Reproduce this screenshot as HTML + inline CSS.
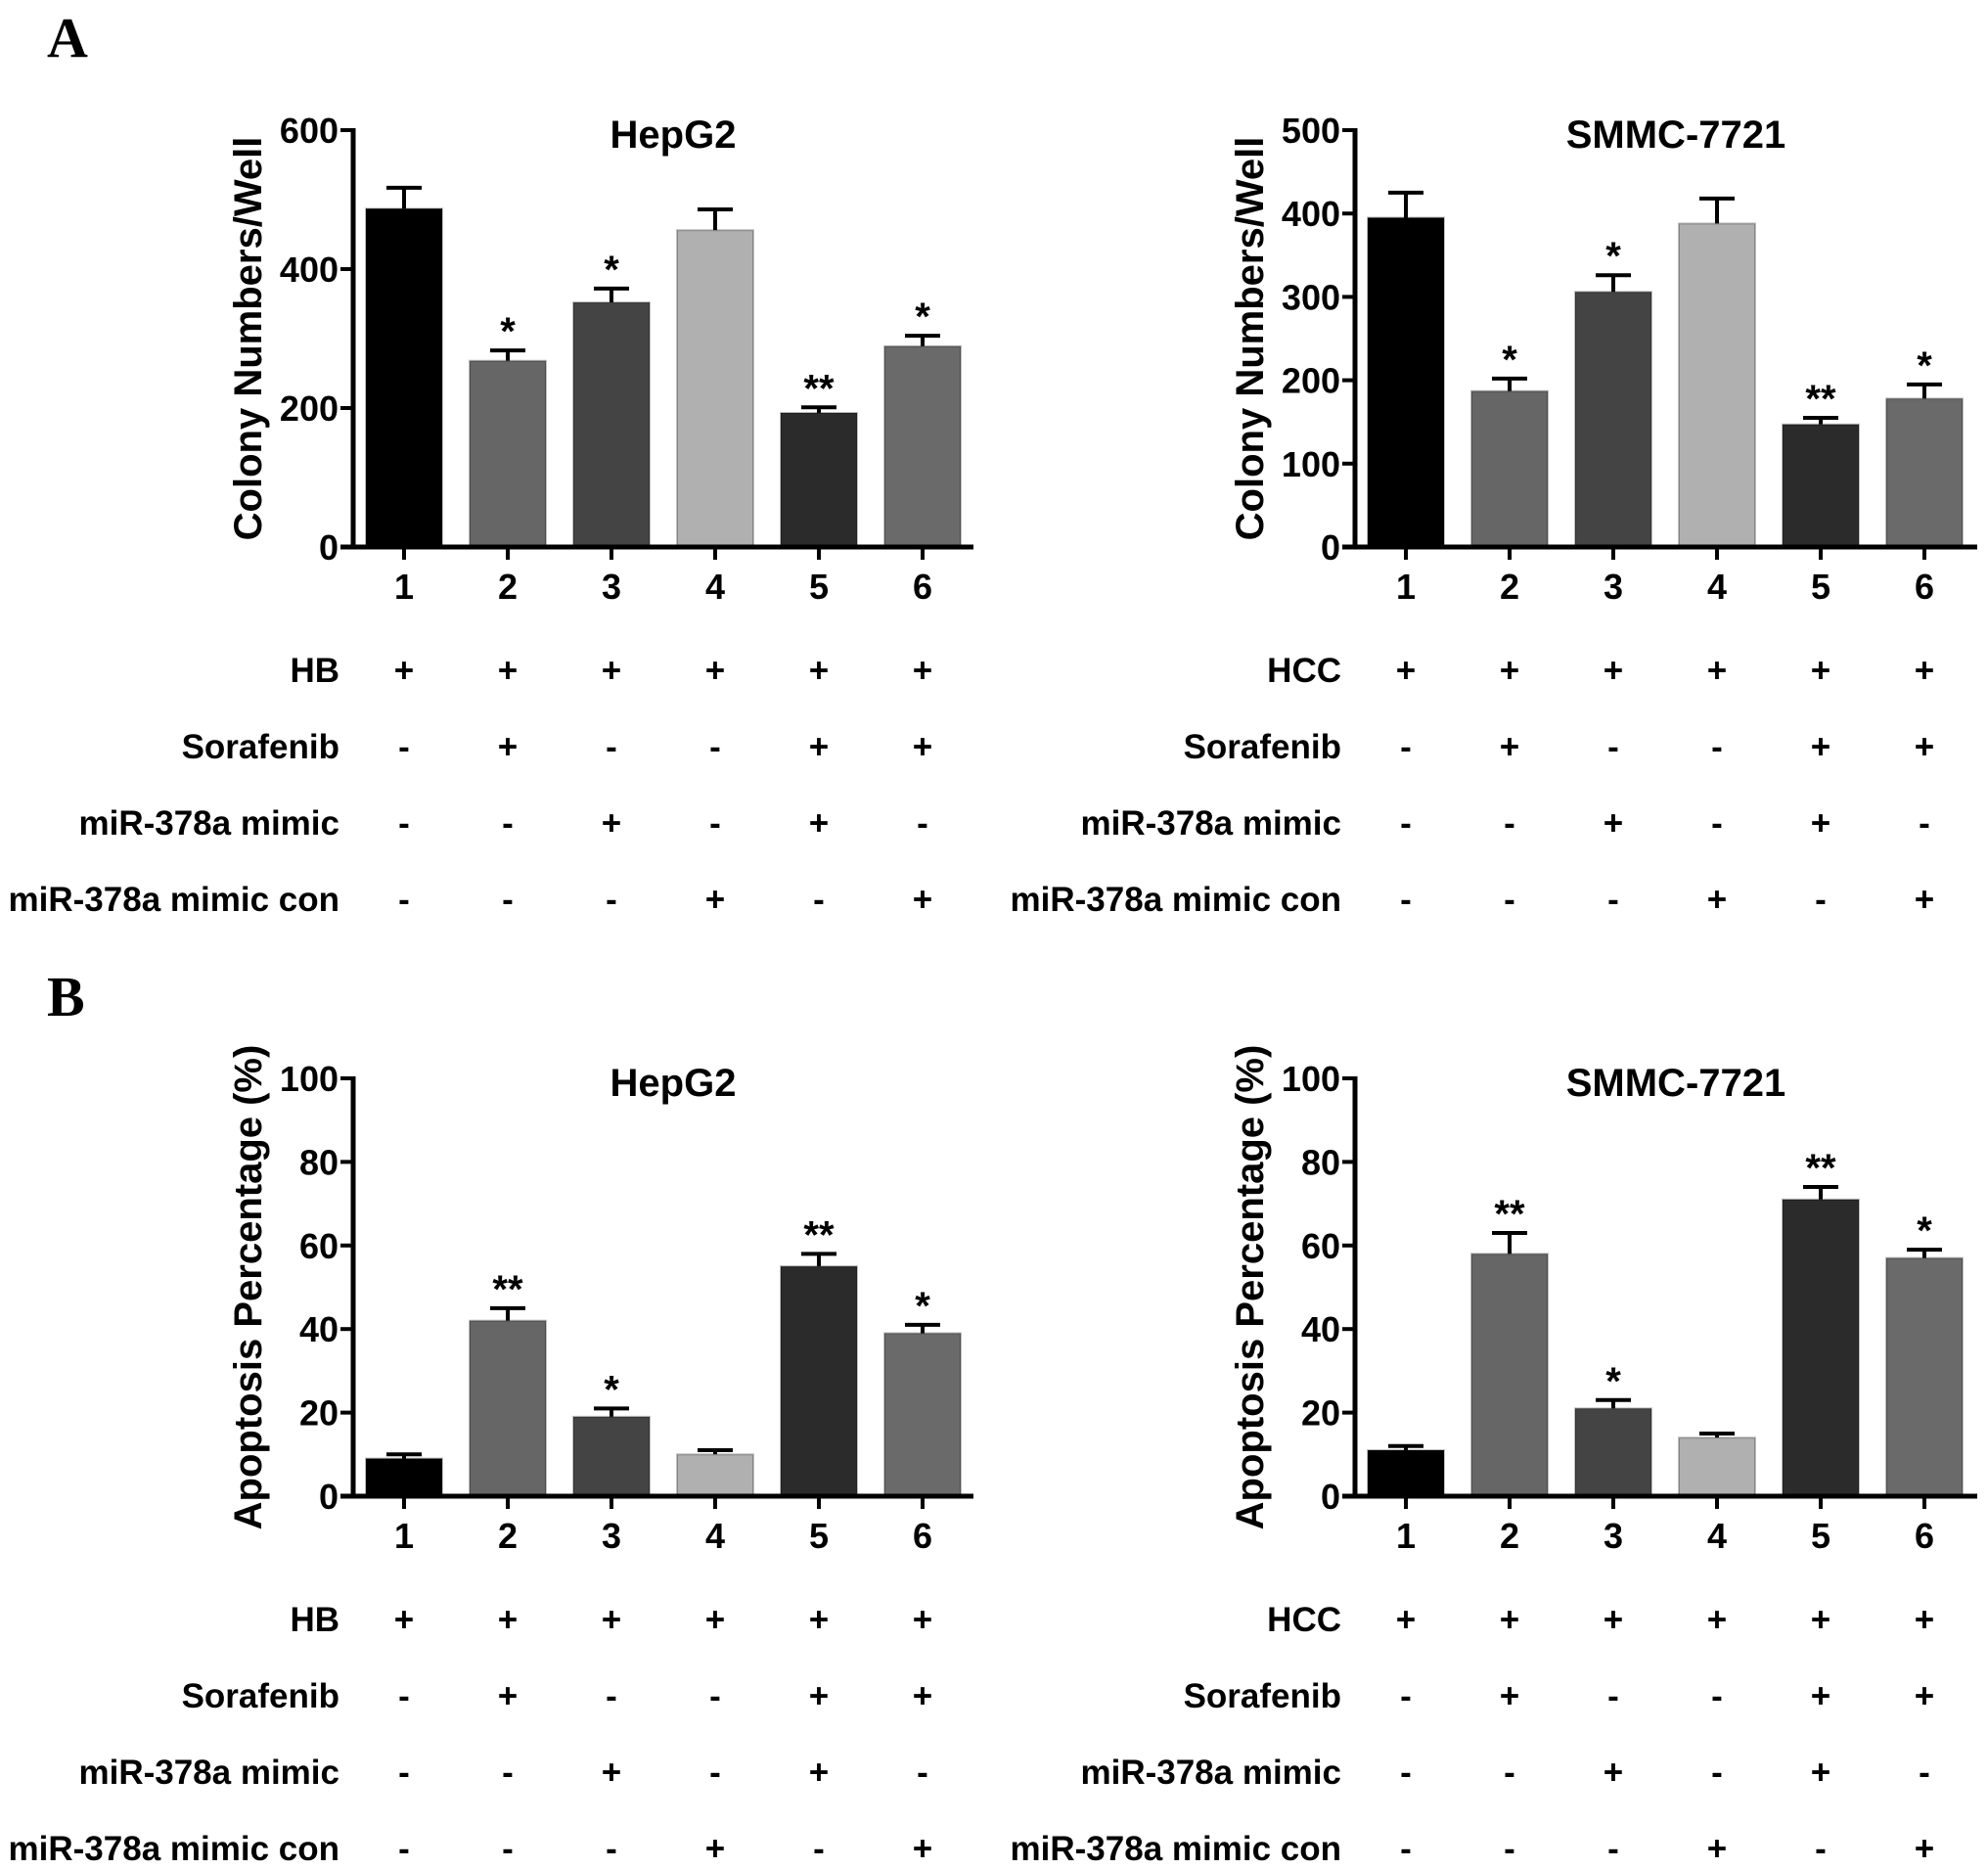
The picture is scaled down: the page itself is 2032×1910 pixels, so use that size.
<!DOCTYPE html>
<html><head><meta charset="utf-8"><style>
html,body{margin:0;padding:0;background:#fff}
svg{display:block}
text{font-family:"Liberation Sans",Arial,sans-serif;font-weight:bold;fill:#000}
</style></head><body>
<svg id="fig" width="2032" height="1910" viewBox="0 0 2032 1910" xmlns="http://www.w3.org/2000/svg">
<text x="48" y="58" style="font-family:'Liberation Serif',serif;font-size:58px">A</text>
<text x="48" y="1038" style="font-family:'Liberation Serif',serif;font-size:58px">B</text>
</svg>
<script>
const categories=["1","2","3","4","5","6"];
const colors=["#000000","#666666","#444444","#b0b0b0","#2b2b2b","#6a6a6a"];
const aHepMean=[487,268,352,456,193,289];
const aHepErr=[30,15,20,30,8,15];
const aSmmcMean=[395,187,306,388,147,178];
const aSmmcErr=[30,15,20,30,8,17];
const bHepMean=[9,42,19,10,55,39];
const bHepErr=[1,3,2,1,3,2];
const bSmmcMean=[11,58,21,14,71,57];
const bSmmcErr=[1,5,2,1,3,2];
const aStars=["","*","*","","**","*"];
const bStars=["","**","*","","**","*"];
const aTicks=[0,200,400,600];
const aTicks2=[0,100,200,300,400,500];
const bTicks=[0,20,40,60,80,100];
const rowLabelsL=["HB","Sorafenib","miR-378a mimic","miR-378a mimic con"];
const rowLabelsR=["HCC","Sorafenib","miR-378a mimic","miR-378a mimic con"];
const signs=[["+","+","+","+","+","+"],["-","+","-","-","+","+"],["-","-","+","-","+","-"],["-","-","-","+","-","+"]];

const svg=document.getElementById('fig');
const NS="http://www.w3.org/2000/svg";
function mk(tag,attrs,parent){const e=document.createElementNS(NS,tag);for(const k in attrs)e.setAttribute(k,attrs[k]);(parent||svg).appendChild(e);return e;}

function chart(o){
  const g=mk('g',{});
  
  
  const x0=o.x0,x1=o.x1,yTop=o.yTop,yZero=o.yZero,max=o.max;
  const y=v=>yZero-(v/max)*(yZero-yTop);
  const step=106.0;
  const xc=i=>x0+o.off+step*i;
  const bw=78;
  o.mean.forEach((m,i)=>{
    const top=y(m+o.err[i]);
    const el=mk('line',{x1:xc(i),x2:xc(i),y1:y(m),y2:top,stroke:'#000','stroke-width':4},g);
    
    
    const cap=mk('line',{x1:xc(i)-18,x2:xc(i)+18,y1:top,y2:top,stroke:'#000','stroke-width':4},g);
    
    
    const r=mk('rect',{x:xc(i)-bw/2,y:y(m),width:bw,height:yZero-y(m),fill:colors[i],stroke:'#000','stroke-opacity':0.25,'stroke-width':2},g);
    
    
    if(o.stars[i]){
      const s=mk('text',{x:xc(i),y:top-6,'text-anchor':'middle','font-size':40},g);
      s.textContent=o.stars[i];
      
      
    }
    const t=mk('text',{x:xc(i),y:yZero+53,'text-anchor':'middle','font-size':36},g);
    t.textContent=categories[i];
    
    
    mk('line',{x1:xc(i),x2:xc(i),y1:yZero,y2:yZero+13,stroke:'#000','stroke-width':4},g);
  });
  const ya=mk('line',{x1:x0,x2:x0,y1:yTop-2,y2:yZero+2,stroke:'#000','stroke-width':5},g);
  
  
  const xa=mk('line',{x1:x0-13,x2:x1,y1:yZero,y2:yZero,stroke:'#000','stroke-width':5},g);
  
  
  o.ticks.forEach(v=>{
    mk('line',{x1:x0-13,x2:x0,y1:y(v),y2:y(v),stroke:'#000','stroke-width':4},g);
    const t=mk('text',{x:x0-15,y:y(v)+13,'text-anchor':'end','font-size':36},g);
    t.textContent=v;
    
    
  });
  const ti=mk('text',{x:(x0+x1)/2+10,y:yTop+18,'text-anchor':'middle','font-size':40},g);
  ti.textContent=o.title;
  
  
  const yt=mk('text',{x:0,y:0,'text-anchor':'middle','font-size':40,transform:`translate(${x0-94},${(yTop+yZero)/2}) rotate(-90)`},g);
  yt.textContent=o.ylabel;
  
  
  o.rows.forEach((r,ri)=>{
    const yy=o.rowY+ri*78;
    const l=mk('text',{x:o.labelX,y:yy+12,'text-anchor':'end','font-size':35},g);
    l.textContent=r;
    
    
    signs[ri].forEach((s,i)=>{
      const t=mk('text',{x:xc(i),y:yy+12,'text-anchor':'middle','font-size':35},g);
      t.textContent=s;
      
      
    });
  });
}
chart({name:'chart-a-hepg2',x0:361,x1:995,off:52,yTop:133,yZero:559,max:600,mean:aHepMean,err:aHepErr,stars:aStars,ticks:aTicks,title:'HepG2',ylabel:'Colony Numbers/Well',rows:rowLabelsL,rowY:685,labelX:347});
chart({name:'chart-a-smmc',x0:1385,x1:2021,off:52,yTop:133,yZero:559,max:500,mean:aSmmcMean,err:aSmmcErr,stars:aStars,ticks:aTicks2,title:'SMMC-7721',ylabel:'Colony Numbers/Well',rows:rowLabelsR,rowY:685,labelX:1371});
chart({name:'chart-b-hepg2',x0:361,x1:995,off:52,yTop:1102,yZero:1529,max:100,mean:bHepMean,err:bHepErr,stars:bStars,ticks:bTicks,title:'HepG2',ylabel:'Apoptosis Percentage (%)',rows:rowLabelsL,rowY:1655,labelX:347});
chart({name:'chart-b-smmc',x0:1385,x1:2021,off:52,yTop:1102,yZero:1529,max:100,mean:bSmmcMean,err:bSmmcErr,stars:bStars,ticks:bTicks,title:'SMMC-7721',ylabel:'Apoptosis Percentage (%)',rows:rowLabelsR,rowY:1655,labelX:1371});
</script>
</body></html>
